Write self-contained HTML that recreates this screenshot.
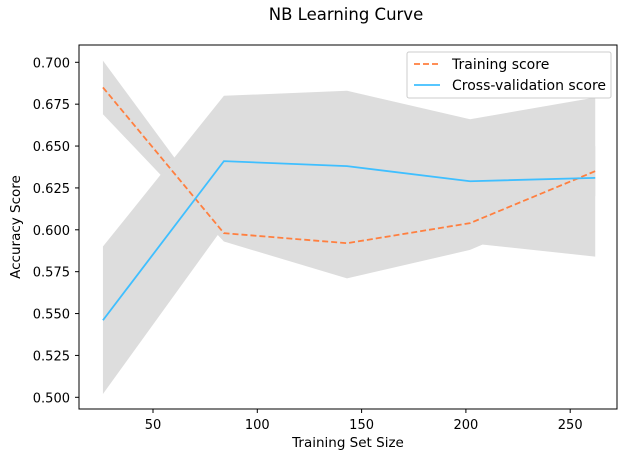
<!DOCTYPE html>
<html><head><meta charset="utf-8"><style>
body{margin:0;background:#fff}
svg text{font-family:"DejaVu Sans","Liberation Sans",sans-serif;fill:#000}
</style></head><body>
<svg width="627" height="457" xmlns="http://www.w3.org/2000/svg">
<rect width="627" height="457" fill="#fff"/>
<text x="346" y="20" font-size="16.5" text-anchor="middle">NB Learning Curve</text>
<g id="plot"></g>
<rect x="79" y="45" width="538" height="364" fill="none" stroke="#000" stroke-width="1"/>
<g id="axes"></g>
<text x="348" y="447" font-size="13.5" text-anchor="middle">Training Set Size</text>
<text transform="translate(20,227) rotate(-90)" font-size="13.5" text-anchor="middle">Accuracy Score</text>
<g>
<rect x="407" y="52" width="204" height="46" rx="2" fill="#fff" fill-opacity="0.8" stroke="#ccc"/>
<line x1="414" y1="64" x2="440" y2="64" stroke="#ff7f3f" stroke-width="1.8" stroke-dasharray="6,3"/>
<text x="452" y="69" font-size="14">Training score</text>
<line x1="414" y1="85" x2="440" y2="85" stroke="#3fbfff" stroke-width="1.8"/>
<text x="452" y="90" font-size="14">Cross-validation score</text>
</g>
</svg>
<script>
const sizes=[26,84,143,202,262];
const trainMean=[0.685,0.598,0.592,0.604,0.635];
const trainLow=[0.669,0.593,0.571,0.588,0.620];
const trainHigh=[0.701,0.603,0.613,0.620,0.650];
const cvMean=[0.546,0.641,0.638,0.629,0.631];
const cvLow=[0.502,0.602,0.593,0.592,0.584];
const cvHigh=[0.590,0.680,0.683,0.666,0.679];
const xTicks=[50,100,150,200,250];
const yTicks=[0.500,0.525,0.550,0.575,0.600,0.625,0.650,0.675,0.700];
const NS='http://www.w3.org/2000/svg';
function sx(v){return 153+(v-50)*104.3/50;}
function sy(v){return 397.3-(v-0.5)*335/0.2;}
const plot=document.getElementById('plot'),axes=document.getElementById('axes');
function mk(t,a,p){const e=document.createElementNS(NS,t);for(const k in a)e.setAttribute(k,a[k]);p.appendChild(e);return e;}
function band(lo,hi,name){let pts=sizes.map((s,i)=>sx(s)+','+sy(hi[i]));for(let i=sizes.length-1;i>=0;i--)pts.push(sx(sizes[i])+','+sy(lo[i]));
const e=mk('polygon',{points:pts.join(' '),fill:'#dddddd'},plot);

}
band(trainLow,trainHigh,'training-band');
band(cvLow,cvHigh,'cv-band');
function line(m,col,dash,name){const e=mk('polyline',{points:sizes.map((s,i)=>sx(s)+','+sy(m[i])).join(' '),fill:'none',stroke:col,'stroke-width':1.8},plot);
if(dash)e.setAttribute('stroke-dasharray','6,3');

}
line(trainMean,'#ff7f3f',true,'training-line');
line(cvMean,'#3fbfff',false,'cv-line');
xTicks.forEach(t=>{const x=sx(t);mk('line',{x1:x,x2:x,y1:409,y2:413,stroke:'#000'},axes);
const e=mk('text',{x:x,y:429,'font-size':13,'text-anchor':'middle'},axes);e.textContent=t;

});
yTicks.forEach(t=>{const y=sy(t);mk('line',{x1:75,x2:79,y1:y,y2:y,stroke:'#000'},axes);
const e=mk('text',{x:70,y:y+5,'font-size':13,'text-anchor':'end'},axes);e.textContent=t.toFixed(3);

});
</script>
</body></html>
